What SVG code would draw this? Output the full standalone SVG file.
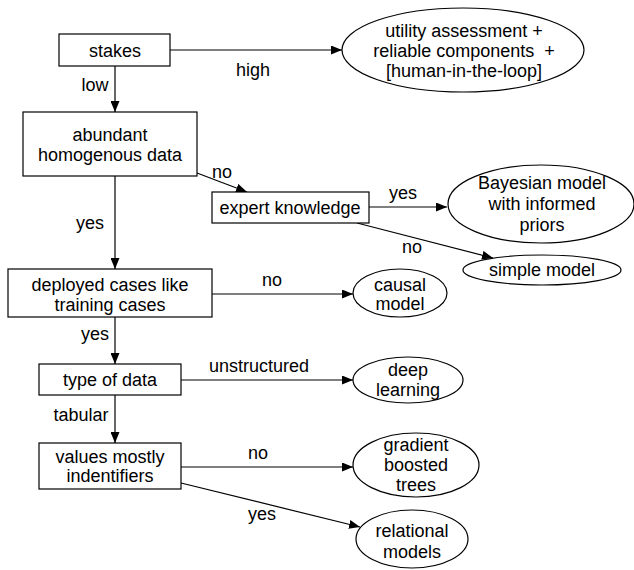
<svg xmlns="http://www.w3.org/2000/svg" width="634" height="570" viewBox="0 0 634 570">
<defs>
<style>
text{font-family:"Liberation Sans",Arial,Helvetica,sans-serif;font-size:18px;fill:#000;text-anchor:middle}
.n{fill:#fff;stroke:#000;stroke-width:1.2}
.e{fill:none;stroke:#000;stroke-width:1.2;marker-end:url(#ah)}
</style>
<marker id="ah" markerUnits="userSpaceOnUse" markerWidth="11" markerHeight="9" refX="11" refY="4.5" orient="auto">
<path d="M0,0 L11,4.5 L0,9 z" fill="#000"/>
</marker>
</defs>
<rect width="634" height="570" fill="#fff"/>
<g id="connectors">
<path class="e" d="M170,50 H342"/>
<path class="e" d="M115,66 V112"/>
<path class="e" d="M197,173 L247,192"/>
<path class="e" d="M369,207 H447"/>
<path class="e" d="M357,223 L493,258"/>
<path class="e" d="M115,176 V269"/>
<path class="e" d="M212,294 H353"/>
<path class="e" d="M115,317 V364"/>
<path class="e" d="M181,380 H353"/>
<path class="e" d="M115,395 V443"/>
<path class="e" d="M181,467 H353"/>
<path class="e" d="M181,483 L360,527"/>
<text x="253" y="76">high</text>
<text x="95" y="91">low</text>
<text x="222" y="178">no</text>
<text x="403" y="199">yes</text>
<text x="412" y="253">no</text>
<text x="90" y="229">yes</text>
<text x="272" y="286">no</text>
<text x="95" y="340">yes</text>
<text x="259" y="372">unstructured</text>
<text x="81" y="421">tabular</text>
<text x="258" y="459">no</text>
<text x="262" y="520">yes</text>
</g>
<g id="stakes"><rect class="n" x="59" y="34" width="111" height="32"/><text x="115" y="57">stakes</text></g>
<g id="utility"><ellipse class="n" cx="463" cy="50" rx="121" ry="42"/>
<text x="464" y="37">utility assessment +</text>
<text x="464" y="57" style="white-space:pre">reliable components  +</text>
<text x="464" y="77">[human-in-the-loop]</text></g>
<g id="abundant"><rect class="n" x="23" y="112" width="174" height="64"/>
<text x="110" y="141">abundant</text><text x="110" y="161">homogenous data</text></g>
<g id="expert"><rect class="n" x="212" y="192" width="157" height="31"/><text x="290" y="214">expert knowledge</text></g>
<g id="bayesian"><ellipse class="n" cx="541" cy="204" rx="93" ry="39"/>
<text x="542" y="189">Bayesian model</text><text x="542" y="210">with informed</text><text x="542" y="231">priors</text></g>
<g id="simple"><ellipse class="n" cx="542" cy="270" rx="79" ry="15"/><text x="542" y="276">simple model</text></g>
<g id="deployed"><rect class="n" x="8" y="269" width="204" height="48"/>
<text x="110" y="291">deployed cases like</text><text x="110" y="311">training cases</text></g>
<g id="causal"><ellipse class="n" cx="400" cy="293" rx="47" ry="24"/>
<text x="400" y="291">causal</text><text x="400" y="310">model</text></g>
<g id="type"><rect class="n" x="39" y="364" width="142" height="31"/><text x="110" y="386">type of data</text></g>
<g id="deep"><ellipse class="n" cx="408" cy="380" rx="55" ry="23"/>
<text x="408" y="376">deep</text><text x="408" y="396">learning</text></g>
<g id="values"><rect class="n" x="39" y="443" width="142" height="46"/>
<text x="110" y="463">values mostly</text><text x="110" y="482">indentifiers</text></g>
<g id="gradient"><ellipse class="n" cx="416" cy="465" rx="63" ry="32"/>
<text x="416" y="451">gradient</text><text x="416" y="471">boosted</text><text x="416" y="491">trees</text></g>
<g id="relational"><ellipse class="n" cx="412" cy="539" rx="56" ry="29"/>
<text x="412" y="537">relational</text><text x="412" y="558">models</text></g>
</svg>
